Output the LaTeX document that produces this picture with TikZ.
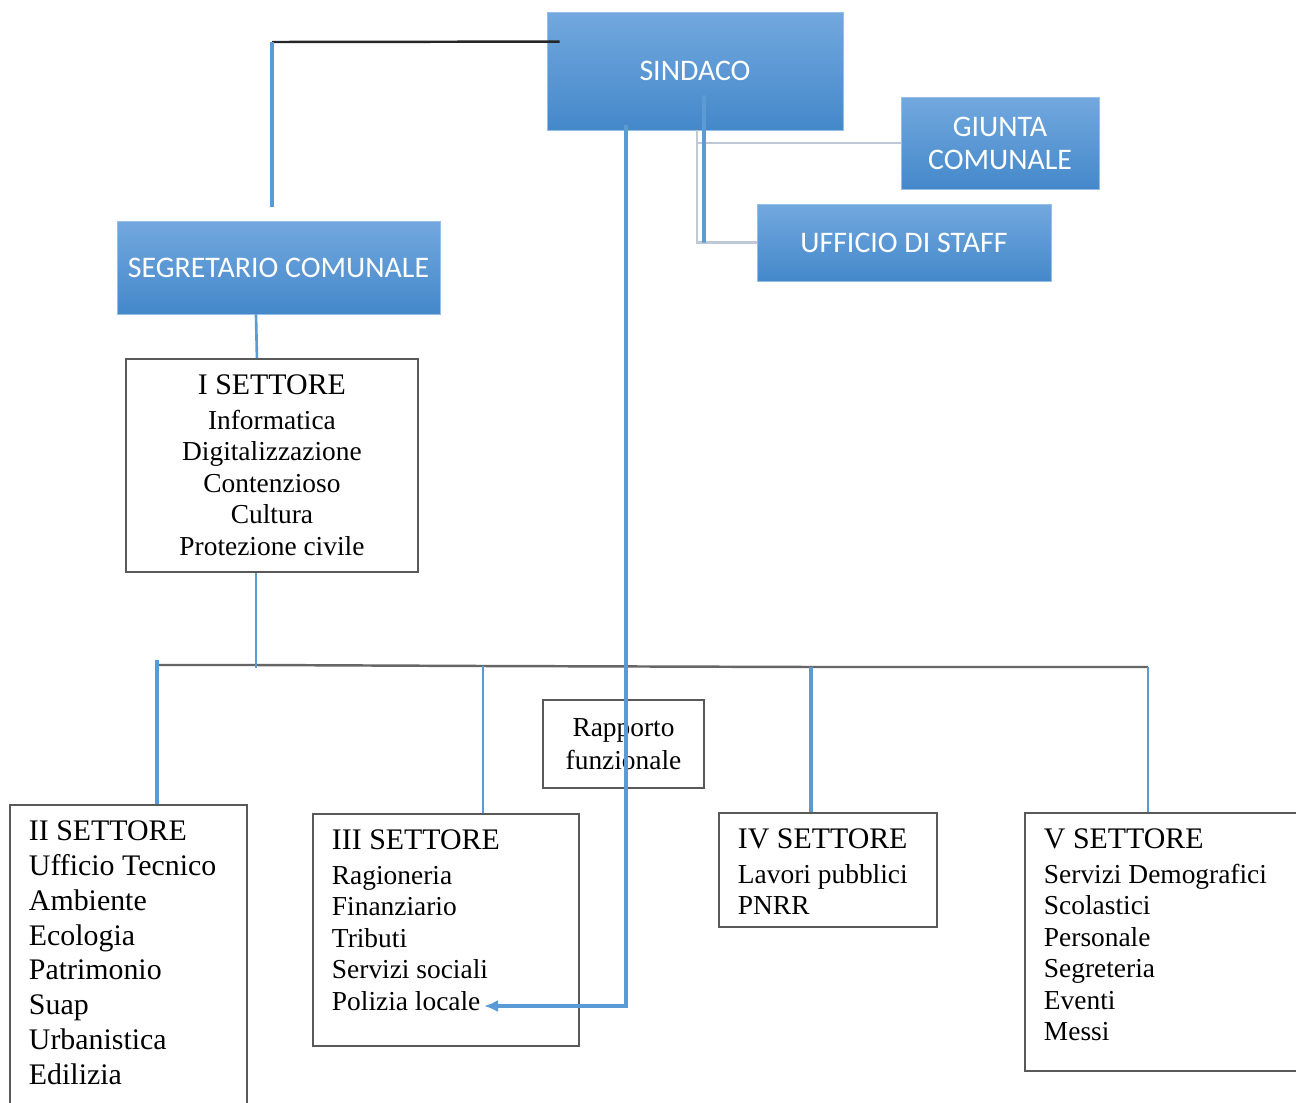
\documentclass[tikz,border=0pt]{standalone}
\usepackage{fontspec}
\setmainfont{Liberation Serif}
\newfontfamily\calibri{Carlito}
\usetikzlibrary{arrows.meta,positioning,calc}

\definecolor{bluetop}{RGB}{114,168,222}
\definecolor{bluebot}{RGB}{68,136,202}
\definecolor{bluedge}{RGB}{150,190,230}
\definecolor{linea}{RGB}{91,155,213}
\definecolor{grigio}{RGB}{190,200,214}

\newcommand{\titolo}[1]{{\fontsize{17}{19.8}\selectfont #1\par}\vspace{1.9pt}}

\begin{document}
\begin{tikzpicture}[
    x=0.02cm, y=-0.02cm,
    ente/.style={
        top color=bluetop,
        bottom color=bluebot,
        draw=bluedge,
        line width=0.5pt,
        text=white,
        align=center,
        font=\calibri\fontsize{17}{18.7}\selectfont
    },
    settore/.style={
        draw=black!65,
        line width=1.1pt,
        anchor=north west,
        inner xsep=0.38cm,
        inner ysep=0.32cm,
        font=\fontsize{15.6}{17.9}\selectfont
    },
    blu/.style={draw=linea, line width=1.5pt},
    blugrosso/.style={draw=linea, line width=2.1pt},
    >={Latex[length=0.28cm,width=0.24cm]}
]

\fill[white] (0,0) rectangle (1296,1103);
\useasboundingbox (0,0) rectangle (1296,1103);
\clip (0,0) rectangle (1296,1103);

% organi di governo
\node[ente, minimum width=5.92cm, minimum height=2.36cm] (sindaco) at (695,71) {SINDACO};
\node[ente, minimum width=3.96cm, minimum height=1.84cm] (giunta) at (1000,143) {GIUNTA\\COMUNALE};
\node[ente, minimum width=5.88cm, minimum height=1.54cm] (staff) at (904,242.5) {UFFICIO DI STAFF};
\node[ente, minimum width=6.46cm, minimum height=1.86cm] (segretario) at (278.5,267.5) {SEGRETARIO COMUNALE};

% settori
\node[settore] (s1) at (125,358) {\parbox[t][3.62cm][t]{5.08cm}{\centering\titolo{I SETTORE}Informatica\\Digitalizzazione\\Contenzioso\\Cultura\\Protezione civile}};
\node[settore] (s2) at (9,804) {\parbox[t][6cm][t]{3.98cm}{\raggedright\fontsize{17}{19.8}\selectfont II SETTORE\\Ufficio Tecnico\\Ambiente\\Ecologia\\Patrimonio\\Suap\\Urbanistica\\Edilizia}};
\node[settore] (s3) at (312,813) {\parbox[t][4cm][t]{4.56cm}{\raggedright\titolo{III SETTORE}Ragioneria\\Finanziario\\Tributi\\Servizi sociali\\Polizia locale}};
\node[settore] (s4) at (718,812) {\parbox[t][1.64cm][t]{3.6cm}{\raggedright\titolo{IV SETTORE}Lavori pubblici\\PNRR}};
\node[settore] (s5) at (1024,812) {\parbox[t][4.52cm][t]{4.84cm}{\raggedright\titolo{V SETTORE}Servizi Demografici\\Scolastici\\Personale\\Segreteria\\Eventi\\Messi}};

\node[draw=black!65, line width=1.1pt, minimum width=3.22cm, minimum height=1.76cm, align=center,
      font=\fontsize{15.6}{18.7}\selectfont] (rapporto) at (623.5,744) {Rapporto\\funzionale};

% sindaco - segretario
\coordinate (ang) at (272,42);
\draw[black!85, line width=1.4pt] ([shift={(13,30)}]sindaco.north west) -- (ang);
\draw[blugrosso] (ang) -- ([yshift=0.28cm]ang |- segretario.north);

% sindaco - giunta e staff
\draw[grigio, line width=1.7pt] ([xshift=0.04cm]sindaco.south) |- (staff.west);
\draw[grigio, line width=1.7pt] ([xshift=0.04cm]sindaco.south |- giunta.west) -- (giunta.west);
\draw[blugrosso] ([shift={(9,-35)}]sindaco.south) -- ([xshift=0.18cm]sindaco.south |- staff.west);

% segretario - I settore
\draw[blu] ([xshift=-0.45cm]segretario.south) -- ([xshift=-0.3cm]s1.north);

% linea dei settori
\coordinate (b1) at (256,665);
\coordinate (b2) at (157,665);
\coordinate (b3) at (483,666);
\coordinate (b4) at (811,667);
\coordinate (b5) at (1148,667);
\draw[black!60, line width=1.4pt] (b2) -- (b1) -- (b3) -- (b4) -- (b5);
\draw[blu] (b1 |- s1.south) -- ([yshift=-0.06cm]b1);
\draw[blugrosso] ([yshift=0.1cm]b2) -- (b2 |- s2.north);
\draw[blu] (b3) -- (b3 |- s3.north);
\draw[blugrosso] (b4) -- (b4 |- s4.north);
\draw[blu] (b5) -- (b5 |- s5.north);

% rapporto funzionale
\coordinate (polizia) at (484,1006);
\draw[blugrosso, ->] ([shift={(-69,-5)}]sindaco.south) |- (polizia);

\end{tikzpicture}
\end{document}
